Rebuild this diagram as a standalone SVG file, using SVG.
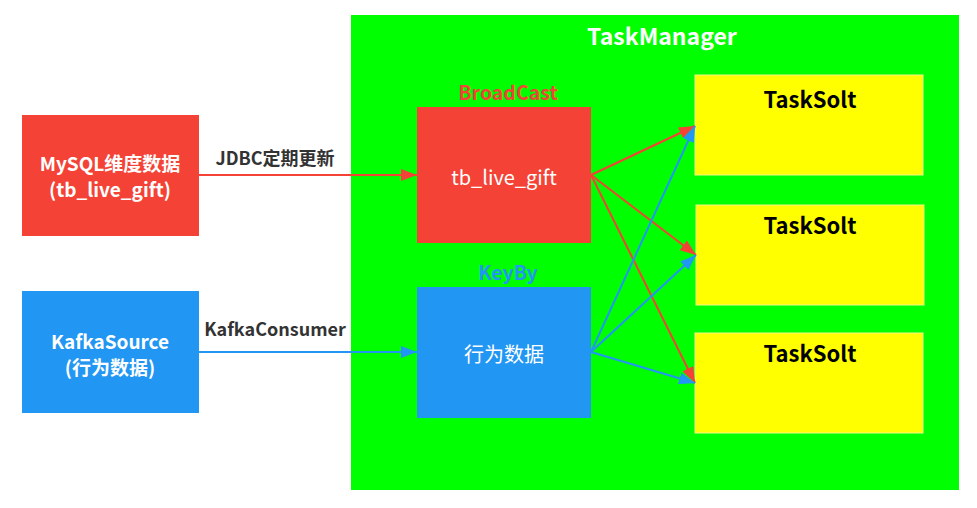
<svg xmlns="http://www.w3.org/2000/svg" width="977" height="508" viewBox="0 0 977 508">
<defs>
<style>
text{font-family:"Noto Sans CJK SC","Noto Sans",sans-serif;text-anchor:middle;dominant-baseline:central}
.b{font-weight:bold}
.red{fill:#F44336}
.blue{fill:#2196F3}
.w{fill:#ffffff}
.lr{stroke:#F44336;stroke-width:2;fill:none}
.lb{stroke:#2196F3;stroke-width:2;fill:none}
</style>
<marker id="ar2" viewBox="0 0 16 12" refX="16" refY="6" markerWidth="16" markerHeight="12" markerUnits="userSpaceOnUse" orient="auto"><path d="M0,0 L16,6 L0,12 z" fill="#F44336"/></marker>
<marker id="ab2" viewBox="0 0 16 12" refX="16" refY="6" markerWidth="16" markerHeight="12" markerUnits="userSpaceOnUse" orient="auto"><path d="M0,0 L16,6 L0,12 z" fill="#2196F3"/></marker>
</defs>
<rect width="977" height="508" fill="#ffffff"/>
<g id="taskmanager">
<rect x="351" y="15" width="608" height="475" fill="#00FF00"/>
<text x="662" y="35" class="b w" font-size="23">TaskManager</text>
</g>
<g id="mysql">
<rect x="22" y="115" width="177" height="121" class="red"/>
<text x="110" y="162" class="b w" font-size="19">MySQL维度数据</text>
<text x="110" y="188" class="b w" font-size="19">(tb_live_gift)</text>
</g>
<g id="kafka">
<rect x="22" y="291" width="177" height="122" class="blue"/>
<text x="110" y="340" class="b w" font-size="19">KafkaSource</text>
<text x="110" y="366" class="b w" font-size="19">(行为数据)</text>
</g>
<g id="broadcast">
<text x="508" y="91" class="b red" font-size="19.5">BroadCast</text>
<rect x="417" y="107" width="174" height="136" class="red"/>
<text x="504" y="176" class="w" font-size="20">tb_live_gift</text>
</g>
<g id="keyby">
<text x="508" y="271" class="b blue" font-size="19.5">KeyBy</text>
<rect x="417" y="287" width="174" height="131" class="blue"/>
<text x="504" y="353" class="w" font-size="20">行为数据</text>
</g>
<g id="slot1">
<rect x="695" y="75" width="228" height="100" fill="#FFFF00" stroke="#f5f58a" stroke-width="1"/>
<text x="810" y="98" class="b" font-size="22" fill="#000">TaskSolt</text>
</g>
<g id="slot2">
<rect x="696" y="205" width="228" height="100" fill="#FFFF00" stroke="#f5f58a" stroke-width="1"/>
<text x="810" y="224" class="b" font-size="22" fill="#000">TaskSolt</text>
</g>
<g id="slot3">
<rect x="695" y="333" width="228" height="100" fill="#FFFF00" stroke="#f5f58a" stroke-width="1"/>
<text x="810" y="352" class="b" font-size="22" fill="#000">TaskSolt</text>
</g>
<g id="connectors">
<path class="lr" d="M199,175 L417,175" marker-end="url(#ar2)"/>
<text x="275" y="157" class="b" font-size="18" fill="#333">JDBC定期更新</text>
<path class="lb" d="M199,352 L417,352" marker-end="url(#ab2)"/>
<text x="275" y="328" class="b" font-size="18" fill="#333">KafkaConsumer</text>
<path class="lr" d="M591,175 L695,126" marker-end="url(#ar2)"/>
<path class="lr" d="M591,175 L696,255" marker-end="url(#ar2)"/>
<path class="lr" d="M591,175 L695,383" marker-end="url(#ar2)"/>
<path class="lb" d="M591,352 L695,126" marker-end="url(#ab2)"/>
<path class="lb" d="M591,352 L696,255" marker-end="url(#ab2)"/>
<path class="lb" d="M591,352 L695,383" marker-end="url(#ab2)"/>
</g>
</svg>
